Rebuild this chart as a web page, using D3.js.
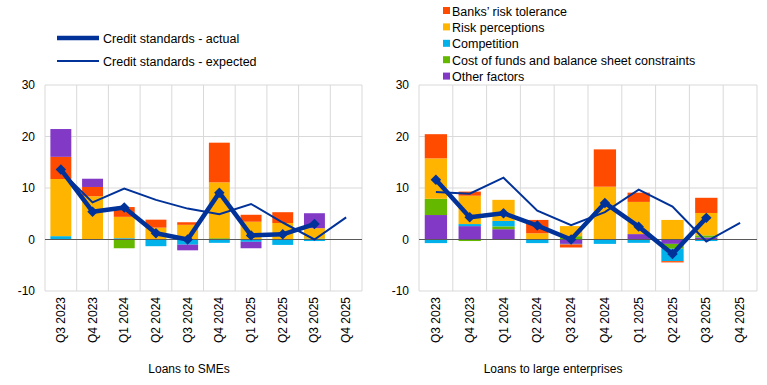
<!DOCTYPE html>
<html>
<head>
<meta charset="utf-8">
<script src="https://cdn.jsdelivr.net/npm/d3@7"></script>
<style>
  body { margin: 0; background: #fff; }
  svg { display: block; font-family: Arial, "Liberation Sans", sans-serif; }
</style>
</head>
<body>
<div id="chart"></div>
<script>
// quarters shown on both panels
var quarters = ['Q3 2023', 'Q4 2023', 'Q1 2024', 'Q2 2024', 'Q3 2024', 'Q4 2024', 'Q1 2025', 'Q2 2025', 'Q3 2025', 'Q4 2025']
var yTicks = [-10, 0, 10, 20, 30]

// factor names, legend order
var factors = ['Banks\u2019 risk tolerance', 'Risk perceptions', 'Competition', 'Cost of funds and balance sheet constraints', 'Other factors']

// loans to SMEs (null = no data)
var smeRiskTolerance = [4.3, 1.8, 1.9, 1.55, 0.5, 7.7, 1.35, 2.1, 0, null]
var smeRiskPerception = [11.1, 8.4, 4.15, 2.2, 2.85, 10.85, 3.35, 3.2, 2.0, null]
var smeCompetition = [0.65, 0, 0.25, -1.3, -1.0, -0.65, -0.45, -1.05, -0.3, null]
var smeCostFunds = [0, 0, -1.7, 0.1, 0, 0.25, 0.1, 0, 0.2, null]
var smeOther = [5.4, 1.6, 0, 0, -1.1, 0, -1.25, 0, 2.9, null]
var smeActual = [13.6, 5.4, 6.2, 1.2, 0.0, 9.1, 0.8, 1.0, 3.0, null]
var smeExpected = [13.3, 7.2, 9.9, 7.7, 6.0, 4.9, 6.9, 3.3, 0.0, 4.3]

// loans to large enterprises
var largeRiskTolerance = [4.7, 0.8, 0, 2.6, -0.6, 7.25, 1.8, -0.25, 2.95, null]
var largeRiskPerception = [7.85, 5.5, 4.1, 1.2, 1.95, 10.25, 6.25, 3.8, 4.35, null]
var largeCompetition = [-0.7, 0.4, 1.05, -0.7, -0.1, -0.85, -0.65, -2.4, -0.3, null]
var largeCostFunds = [3.15, -0.3, 0.55, 0, 0.65, 0, 0, -0.95, 0.4, null]
var largeOther = [4.75, 2.6, 2.0, 0, -0.85, 0, 1.05, -0.85, 0.4, null]
var largeActual = [11.6, 4.3, 5.1, 2.7, 0.0, 7.1, 2.5, -2.8, 4.2, null]
var largeExpected = [9.2, 8.9, 12.0, 5.6, 2.8, 5.3, 9.7, 6.4, -0.4, 3.25]

var colors = ['#ff4b00', '#ffb400', '#00b1ea', '#65b800', '#8139c6']
var lineColor = '#003299'

var svg = d3.select('#chart')
  .append('svg')
    .attr('width', 767)
    .attr('height', 385)

var y = d3.scaleLinear().domain([-10, 30]).range([291, 85])

// stack values from zero, positives up and negatives down, in the given series order
function stackBars(series, order) {
  var out = []
  quarters.forEach(function(q, i) {
    var pos = 0, neg = 0
    order.forEach(function(k) {
      var v = series[k][i]
      if (v === null || v === 0) return
      if (v > 0) { out.push({ q: q, k: k, y0: pos, y1: pos + v }); pos += v }
      else { out.push({ q: q, k: k, y0: neg + v, y1: neg }); neg += v }
    })
  })
  return out
}

function panel(opt) {
  var x = d3.scaleBand().domain(quarters).range([opt.left, opt.right]).paddingInner(0.34).paddingOuter(0.17)
  var band = d3.scaleBand().domain(quarters).range([opt.left, opt.right])
  var g = svg.append('g')

  // grid
  g.selectAll('.hgrid').data(yTicks).enter()
    .append('line')
      .attr('x1', opt.left).attr('x2', opt.right)
      .attr('y1', function(d) { return y(d) }).attr('y2', function(d) { return y(d) })
      .attr('stroke', '#d9d9d9').attr('stroke-width', 1)
  var vg = quarters.map(function(q) { return band(q) }).concat([opt.right])
  g.selectAll('.vgrid').data(vg).enter()
    .append('line')
      .attr('x1', function(d) { return d }).attr('x2', function(d) { return d })
      .attr('y1', y(30)).attr('y2', y(-10))
      .attr('stroke', '#d9d9d9').attr('stroke-width', 1)

  // bars
  g.selectAll('.bar').data(stackBars(opt.series, opt.order)).enter()
    .append('rect')
      .attr('x', function(d) { return x(d.q) })
      .attr('width', x.bandwidth())
      .attr('y', function(d) { return y(d.y1) })
      .attr('height', function(d) { return y(d.y0) - y(d.y1) })
      .attr('fill', function(d) { return colors[d.k] })

  // zero line
  g.append('line')
    .attr('x1', opt.left).attr('x2', opt.right)
    .attr('y1', y(0)).attr('y2', y(0))
    .attr('stroke', '#595959').attr('stroke-width', 1)

  var cx = function(d, i) { return band(quarters[i]) + band.bandwidth() / 2 }

  // expected
  var lineExp = d3.line().defined(function(d) { return d !== null }).x(cx).y(function(d) { return y(d) })
  g.append('path')
    .attr('d', lineExp(opt.expected))
    .attr('fill', 'none').attr('stroke', lineColor).attr('stroke-width', 2)

  // actual
  g.append('path')
    .attr('d', lineExp(opt.actual))
    .attr('fill', 'none').attr('stroke', lineColor).attr('stroke-width', 4.5)
    .attr('stroke-linejoin', 'round')
  var pts = opt.actual.map(function(d, i) { return { v: d, i: i } }).filter(function(d) { return d.v !== null })
  g.selectAll('.mk').data(pts).enter()
    .append('path')
      .attr('d', d3.symbol().type(d3.symbolDiamond2).size(70))
      .attr('transform', function(d) { return 'translate(' + cx(null, d.i) + ',' + y(d.v) + ')' })
      .attr('fill', lineColor)

  // y axis labels
  g.selectAll('.yl').data(yTicks).enter()
    .append('text')
      .attr('x', opt.left - 10).attr('y', function(d) { return y(d) + 4 })
      .attr('text-anchor', 'end').attr('font-size', 12).attr('fill', '#000')
      .text(function(d) { return d })

  // x labels
  g.selectAll('.xl').data(quarters).enter()
    .append('text')
      .attr('transform', function(d) { return 'translate(' + (band(d) + band.bandwidth() / 2 + 4) + ',297) rotate(-90)' })
      .attr('text-anchor', 'end').attr('font-size', 12).attr('fill', '#000')
      .text(function(d) { return d })

  g.append('text')
    .attr('x', opt.titleX).attr('y', 373)
    .attr('text-anchor', 'middle').attr('font-size', 12)
    .attr('font-family', '"Liberation Sans Narrow", "Arial Narrow", Arial, sans-serif')
    .text(opt.title)
}

panel({
  left: 45, right: 362, title: 'Loans to SMEs', titleX: 189,
  series: [smeRiskTolerance, smeRiskPerception, smeCompetition, smeCostFunds, smeOther],
  order: [3, 2, 1, 0, 4],
  actual: smeActual, expected: smeExpected
})
panel({
  left: 419, right: 757, title: 'Loans to large enterprises', titleX: 553,
  series: [largeRiskTolerance, largeRiskPerception, largeCompetition, largeCostFunds, largeOther],
  order: [4, 3, 2, 1, 0],
  actual: largeActual, expected: largeExpected
})

// line legend
var lineLegend = svg.append('g')
lineLegend.selectAll('line').data([4.5, 2]).enter()
  .append('line')
    .attr('x1', 57).attr('x2', 99)
    .attr('y1', function(d, i) { return 38 + i * 23 }).attr('y2', function(d, i) { return 38 + i * 23 })
    .attr('stroke', lineColor).attr('stroke-width', function(d) { return d })
lineLegend.selectAll('text').data(['Credit standards - actual', 'Credit standards - expected']).enter()
  .append('text')
    .attr('x', 103).attr('y', function(d, i) { return 42.5 + i * 23 })
    .attr('font-size', 12.5)
    .text(function(d) { return d })

// factor legend
var factorLegend = svg.append('g')
factorLegend.selectAll('rect').data(factors).enter()
  .append('rect')
    .attr('x', 443).attr('y', function(d, i) { return 7 + i * 16.4 })
    .attr('width', 7).attr('height', 7)
    .attr('fill', function(d, i) { return colors[i] })
factorLegend.selectAll('text').data(factors).enter()
  .append('text')
    .attr('x', 452).attr('y', function(d, i) { return 15.5 + i * 16.4 })
    .attr('font-size', 12.5)
    .text(function(d) { return d })
</script>
</body>
</html>
